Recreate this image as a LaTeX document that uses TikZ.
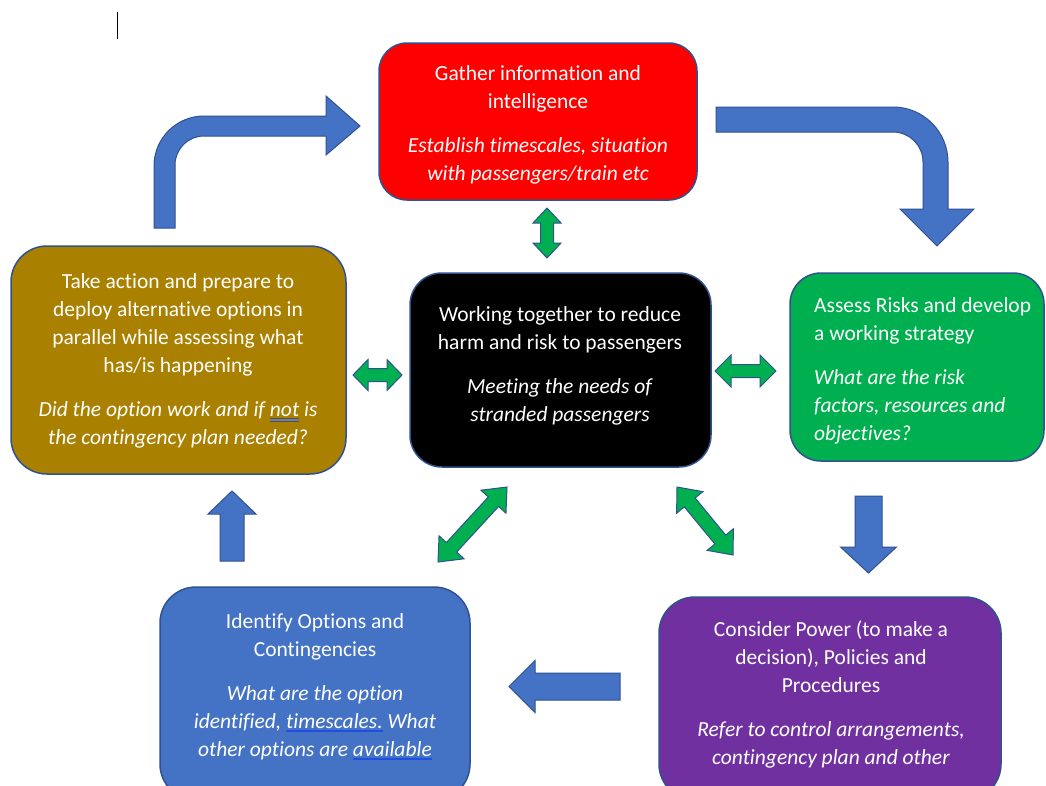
\documentclass[tikz,border=0pt]{standalone}
\usepackage{fontspec}
\setmainfont{Carlito}[Ligatures=NoCommon]
\usetikzlibrary{calc}
\definecolor{bordblue}{HTML}{2F528F}
\definecolor{accblue}{HTML}{4472C4}
\definecolor{accgreen}{HTML}{00B050}
\definecolor{accpurple}{HTML}{7030A0}
\definecolor{accgold}{HTML}{A98000}
\definecolor{accred}{HTML}{FF0000}
\definecolor{ulblue}{HTML}{1E4FE0}
\newcommand\ulone[1]{\setbox0=\hbox{#1}\rlap{\color{ulblue}\rule[-3.5pt]{\wd0\relax}{1.2pt}}\box0\relax}
\newcommand\ultwo[1]{\setbox0=\hbox{#1}\rlap{\color{ulblue}\rule[-3pt]{\wd0\relax}{0.8pt}\hskip-\wd0\relax\rule[-5.5pt]{\wd0\relax}{0.8pt}}\box0\relax}
% single block arrow: name, tail, tip, half shaft, half head, head length
\newcommand\sglarr[6]{%
  \coordinate (#1-s) at #2; \coordinate (#1-t) at #3;
  \coordinate (#1-h) at ($(#1-t)!#6!(#1-s)$);
  \draw[bluearrow] ($(#1-s)!#4!90:(#1-t)$) -- ($(#1-h)!#4!90:(#1-t)$) -- ($(#1-h)!#5!90:(#1-t)$) -- (#1-t) -- ($(#1-h)!#5!-90:(#1-t)$) -- ($(#1-h)!#4!-90:(#1-t)$) -- ($(#1-s)!#4!-90:(#1-t)$) -- cycle;}
% double block arrow: name, end a, end b, half shaft, half head, head length
\newcommand\dblarr[6]{%
  \coordinate (#1-a) at #2; \coordinate (#1-b) at #3;
  \coordinate (#1-ha) at ($(#1-a)!#6!(#1-b)$);
  \coordinate (#1-hb) at ($(#1-b)!#6!(#1-a)$);
  \draw[greenarrow] (#1-a) -- ($(#1-ha)!#5!90:(#1-b)$) -- ($(#1-ha)!#4!90:(#1-b)$) -- ($(#1-hb)!#4!-90:(#1-a)$) -- ($(#1-hb)!#5!-90:(#1-a)$) -- (#1-b) -- ($(#1-hb)!#5!90:(#1-a)$) -- ($(#1-hb)!#4!90:(#1-a)$) -- ($(#1-ha)!#4!-90:(#1-b)$) -- ($(#1-ha)!#5!-90:(#1-b)$) -- cycle;}
\tikzset{
  box/.style={draw=bordblue, line width=1.5pt, rectangle, inner sep=0pt},
  boxtext/.style={text=white, align=center, inner sep=0pt, font=\fontsize{21.5}{28}\selectfont},
  bluearrow/.style={fill=accblue, draw=bordblue, line width=1pt, line join=miter},
  greenarrow/.style={fill=accgreen, draw=bordblue, line width=1pt, line join=miter},
}
\begin{document}
\begin{tikzpicture}[x=1pt,y=-1pt]
\useasboundingbox (0,0) rectangle (1046,785);
\clip (0,0) rectangle (1046,785);
\fill[white] (0,0) rectangle (1046,785);

% text cursor
\coordinate (cur1) at (117.5,12);
\coordinate (cur2) at (117.5,39);
\draw[black, line width=1.2pt] (cur1) -- (cur2);

% boxes
\node[box, fill=accred, rounded corners=28pt, minimum width=318pt, minimum height=157pt] (gather) at (538,121.5) {};
\node[box, fill=accgold, rounded corners=36pt, minimum width=335pt, minimum height=228pt] (action) at (178.5,360) {};
\node[box, fill=black, rounded corners=32pt, minimum width=301pt, minimum height=194pt] (center) at (560.5,370) {};
\node[box, fill=accgreen, rounded corners=31pt, minimum width=254pt, minimum height=188pt] (assess) at (917,367) {};
\node[box, fill=accpurple, rounded corners=36pt, minimum width=342pt, minimum height=203pt] (power) at (830,698.5) {};
\node[box, fill=accblue, rounded corners=36pt, minimum width=310pt, minimum height=213pt] (options) at (315,693.5) {};

% texts
\node[boxtext, anchor=north] (t-gather) at (538,65) {Gather information and\\intelligence\\[16pt]\textit{Establish timescales, situation}\\\textit{with passengers/train etc}};
\node[boxtext, anchor=north] (t-action) at (178,273) {Take action and prepare to\\deploy alternative options in\\parallel while assessing what\\has/is happening\\[16pt]\textit{Did the option work and if \ultwo{not} is}\\\textit{the contingency plan needed?}};
\node[boxtext, anchor=north] (t-center) at (560,306) {Working together to reduce\\harm and risk to passengers\\[16pt]\textit{Meeting the needs of}\\\textit{stranded passengers}};
\node[boxtext, align=left, anchor=north west] (t-assess) at (814,297) {Assess Risks and develop\\a working strategy\\[16pt]\textit{What are the risk}\\\textit{factors, resources and}\\\textit{objectives?}};
\node[boxtext, anchor=north] (t-power) at (831,621) {Consider Power (to make a\\decision), Policies and\\Procedures\\[16pt]\textit{Refer to control arrangements,}\\\textit{contingency plan and other}};
\node[boxtext, anchor=north] (t-options) at (315,613) {Identify Options and\\Contingencies\\[16pt]\textit{What are the option}\\\textit{identified, \ulone{timescales.} What}\\\textit{other options are \ulone{available}}};

% bent arrow top-left (action -> gather)
\draw[bluearrow] (154,228) -- (154,166) arc[start angle=180, end angle=90, radius=50pt] -- (326,116) -- (326,96) -- (360,126) -- (326,155) -- (326,136) -- (204,136) arc[start angle=90, end angle=180, radius=29pt] -- (175,228) -- cycle;
% bent arrow top-right (gather -> assess)
\draw[bluearrow] (716,107) -- (893,107) arc[start angle=90, end angle=0, radius=55pt] -- (948,209) -- (974,209) -- (937,246) -- (900,209) -- (923,209) -- (923,162) arc[start angle=0, end angle=90, radius=30pt] -- (716,132) -- cycle;

% straight blue arrows
\sglarr{a1}{(868.5,496)}{(868.5,573)}{13.5pt}{28pt}{26pt}
\sglarr{a2}{(620,686.5)}{(509,686.5)}{13.5pt}{26pt}{26pt}
\sglarr{a3}{(232,561)}{(232,491)}{12pt}{24pt}{23pt}

% green double arrows
\dblarr{g1}{(547,208)}{(547,258)}{6.5pt}{14pt}{15pt}
\dblarr{g2}{(353,375)}{(402,375)}{6.5pt}{15.5pt}{15pt}
\dblarr{g3}{(715,371)}{(776,371)}{6.5pt}{16pt}{16pt}
\dblarr{g4}{(438,562)}{(507,487)}{7pt}{17pt}{20pt}
\dblarr{g5}{(677,487)}{(733,555)}{7pt}{17pt}{20pt}
\end{tikzpicture}
\end{document}
